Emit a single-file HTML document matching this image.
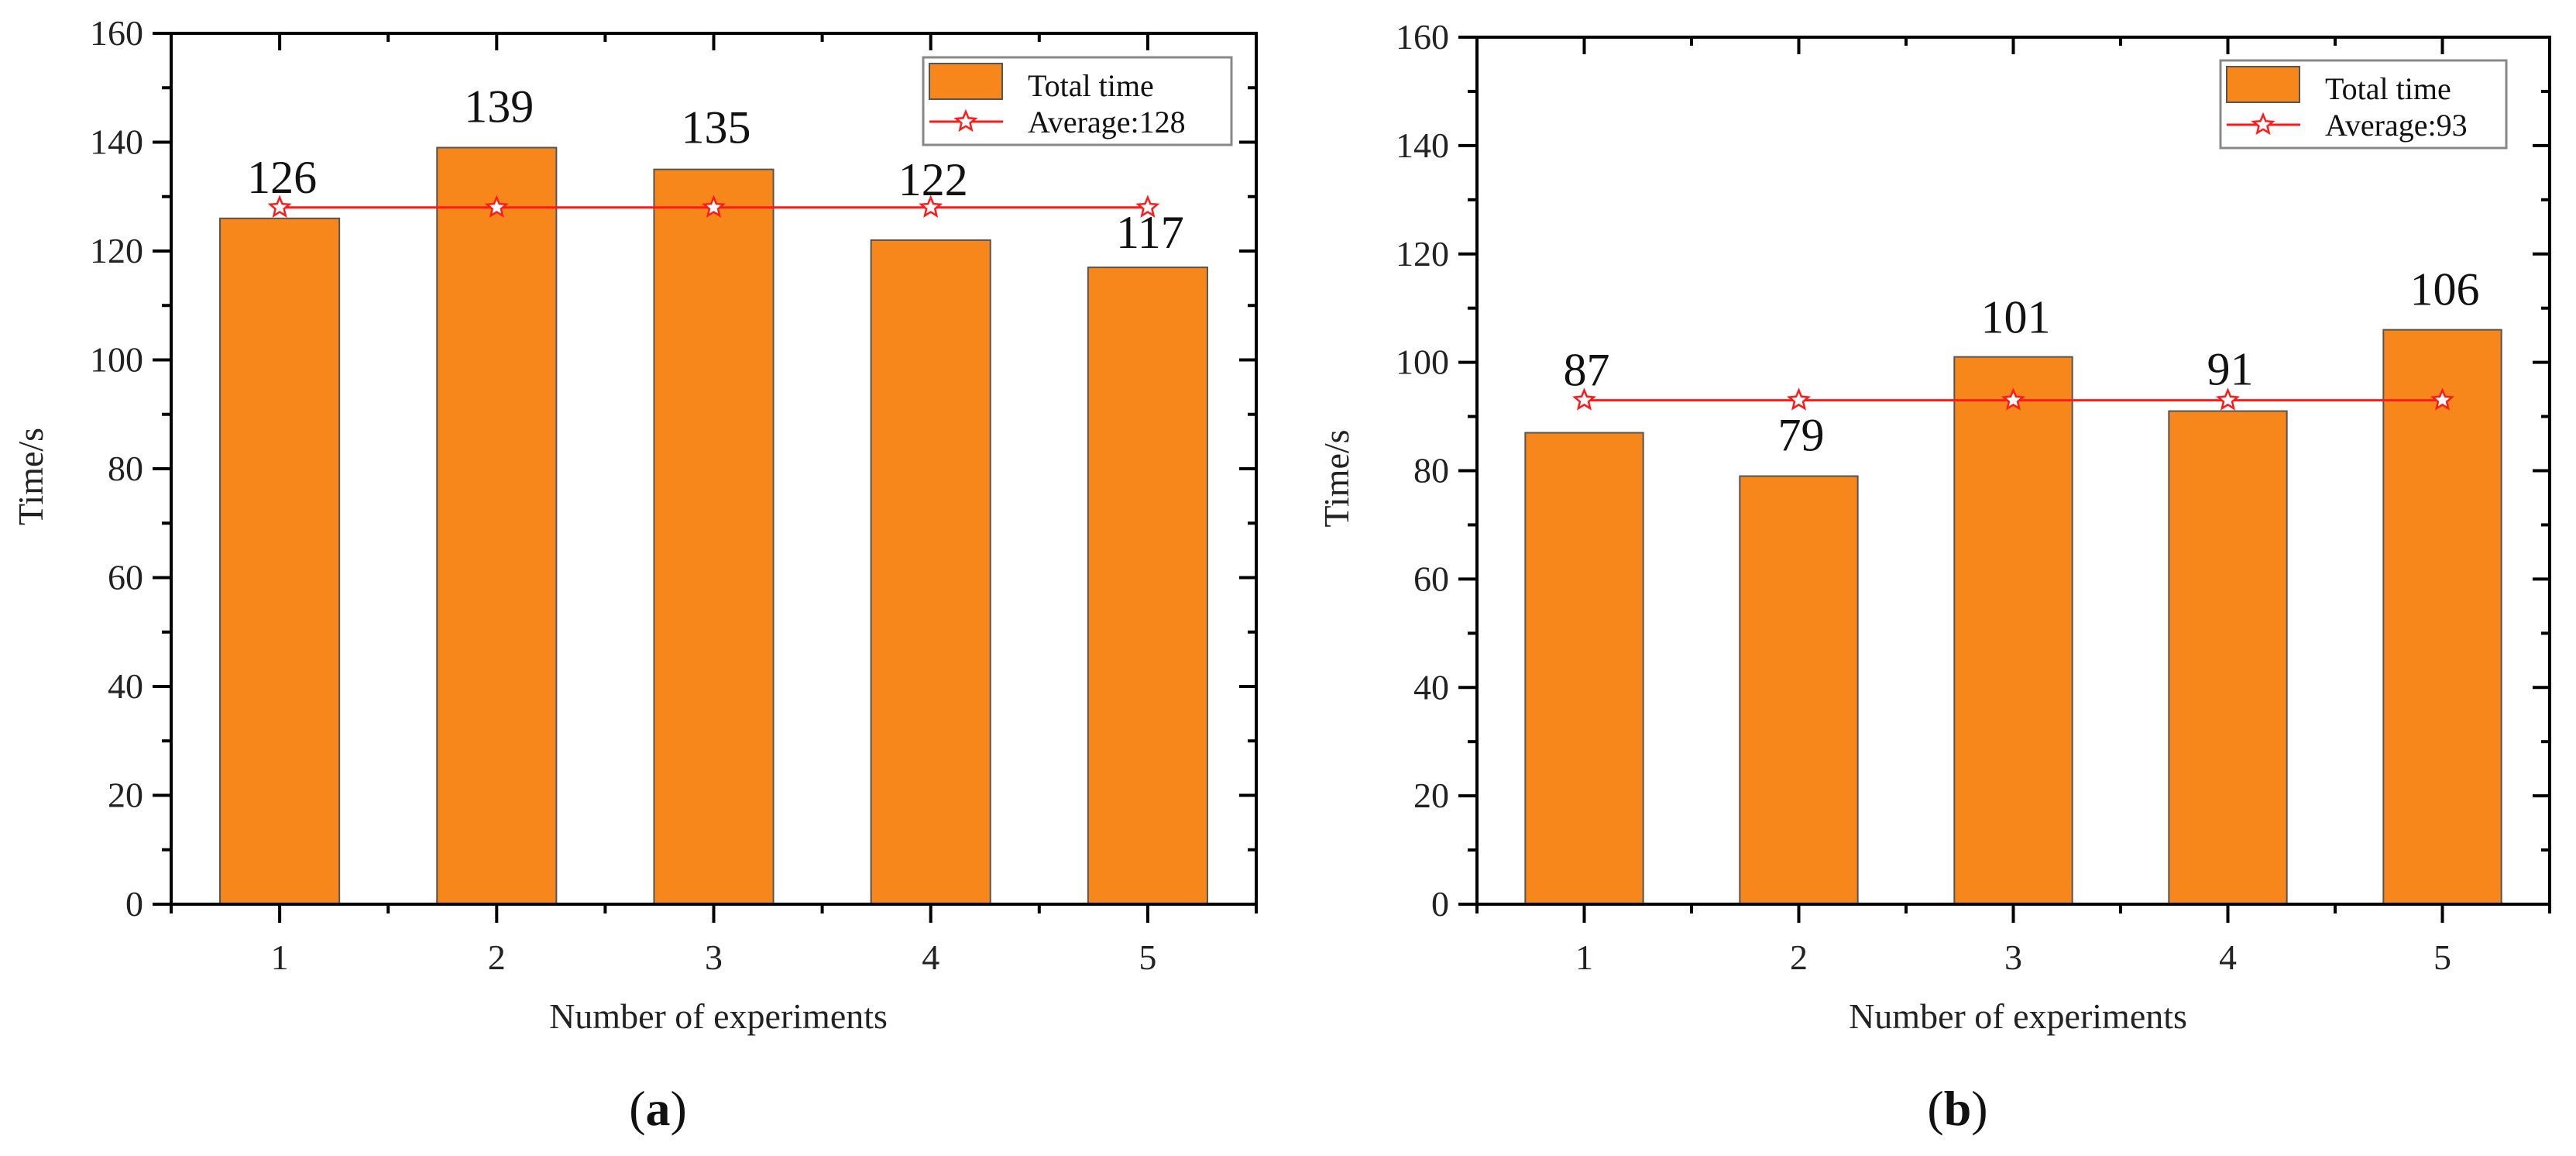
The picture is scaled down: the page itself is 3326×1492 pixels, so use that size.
<!DOCTYPE html>
<html><head><meta charset="utf-8"><style>
html,body{margin:0;padding:0;background:#fff;}
svg{display:block;font-family:"Liberation Serif",serif;}
</style></head><body>
<svg id="fig" width="3326" height="1492" viewBox="0 0 3326 1492"></svg>
<script>
const categories = [1, 2, 3, 4, 5];
const yTicks = [0, 20, 40, 60, 80, 100, 120, 140, 160];
const timesA = [126, 139, 135, 122, 117];
const averageA = 128;
const timesB = [87, 79, 101, 91, 106];
const averageB = 93;
// label gap above bar top (style only)
const labelGapA = [33, 33, 34, 58, 25];
const labelGapB = [61, 33, 31, 34, 32];

const NS = 'http://www.w3.org/2000/svg';
const svg = document.getElementById('fig');
function mk(tag, attrs, parent) {
  const e = document.createElementNS(NS, tag);
  for (const k in attrs) e.setAttribute(k, attrs[k]);
  (parent || svg).appendChild(e);
  return e;
}
function starPts(cx, cy, R) {
  const r = R * 0.45; let p = [];
  for (let i = 0; i < 10; i++) {
    const a = -Math.PI / 2 + i * Math.PI / 5; const rr = i % 2 ? r : R;
    p.push((cx + rr * Math.cos(a)).toFixed(1) + ',' + (cy + rr * Math.sin(a)).toFixed(1));
  }
  return p.join(' ');
}
function panel(cfg) {
  const g = mk('g', {});
  
  
  const {x0, x1, y0, y1} = cfg;
  const X = v => x0 + (v - 0.5) / 5 * (x1 - x0);
  const Y = v => y1 - v / 160 * (y1 - y0);
  const step = (x1 - x0) / 5, bw = step * 0.55;
  cfg.values.forEach((v, i) => {
    const r = mk('rect', {x: X(categories[i]) - bw / 2, y: Y(v), width: bw, height: Y(0) - Y(v), fill: '#F7871A', stroke: '#555', 'stroke-width': 2}, g);
    
    
  });
  const ay = Y(cfg.avg);
  const ln = mk('line', {x1: X(categories[0]), x2: X(categories[categories.length - 1]), y1: ay, y2: ay, stroke: '#ff1a1a', 'stroke-width': 3}, g);
  
  
  categories.forEach(c => {
    const s = mk('polygon', {points: starPts(X(c), ay, 13), fill: '#fff', stroke: '#ff1a1a', 'stroke-width': 2.5}, g);
    
    
  });
  cfg.values.forEach((v, i) => {
    const t = mk('text', {x: X(categories[i]) + 3, y: Y(v) - cfg.gaps[i], 'text-anchor': 'middle', 'font-size': 60, fill: '#111'}, g);
    t.textContent = v;
    
    
  });
  const fr = mk('rect', {x: x0, y: y0, width: x1 - x0, height: y1 - y0, fill: 'none', stroke: '#000', 'stroke-width': 4}, g);
  
  
  yTicks.forEach((v, i) => {
    const y = Y(v);
    mk('line', {x1: x0 - 24, x2: x0, y1: y, y2: y, stroke: '#000', 'stroke-width': 4}, g);
    mk('line', {x1: x1 - 22, x2: x1, y1: y, y2: y, stroke: '#000', 'stroke-width': 4}, g);
    if (i < yTicks.length - 1) {
      const ym = Y(v + 10);
      mk('line', {x1: x0 - 12, x2: x0, y1: ym, y2: ym, stroke: '#000', 'stroke-width': 4}, g);
      mk('line', {x1: x1 - 11, x2: x1, y1: ym, y2: ym, stroke: '#000', 'stroke-width': 4}, g);
    }
    const t = mk('text', {x: x0 - 36, y: y + 15, 'text-anchor': 'end', 'font-size': 46, fill: '#222'}, g);
    t.textContent = v;
    
    
  });
  categories.forEach(c => {
    const x = X(c);
    mk('line', {x1: x, x2: x, y1: y1, y2: y1 + 24, stroke: '#000', 'stroke-width': 4}, g);
    mk('line', {x1: x, x2: x, y1: y0, y2: y0 + 22, stroke: '#000', 'stroke-width': 4}, g);
    const t = mk('text', {x: x, y: y1 + 84, 'text-anchor': 'middle', 'font-size': 46, fill: '#222'}, g);
    t.textContent = c;
    
    
  });
  for (let k = 0; k <= 5; k++) {
    const x = X(0.5 + k);
    mk('line', {x1: x, x2: x, y1: y1, y2: y1 + 12, stroke: '#000', 'stroke-width': 4}, g);
    mk('line', {x1: x, x2: x, y1: y0, y2: y0 + 11, stroke: '#000', 'stroke-width': 4}, g);
  }
  const xt = mk('text', {x: (x0 + x1) / 2 + 6, y: y1 + 160, 'text-anchor': 'middle', 'font-size': 46, fill: '#222'}, g);
  xt.textContent = 'Number of experiments';
  
  
  const ty = (y0 + y1) / 2 + 10;
  const yt = mk('text', {x: x0 - 166, y: ty, 'text-anchor': 'middle', 'font-size': 46, fill: '#222', transform: `rotate(-90 ${x0 - 166} ${ty})`}, g);
  yt.textContent = 'Time/s';
  
  
  const L = cfg.legend;
  const lg = mk('g', {}, g);
  
  
  mk('rect', {x: L.x, y: L.y, width: L.w, height: 113, fill: '#fff', stroke: '#888', 'stroke-width': 3}, lg);
  mk('rect', {x: L.x + 8, y: L.y + 8, width: 94, height: 46, fill: '#F7871A', stroke: '#555', 'stroke-width': 2}, lg);
  mk('line', {x1: L.x + 8, x2: L.x + 103, y1: L.y + 83, y2: L.y + 83, stroke: '#ff1a1a', 'stroke-width': 3}, lg);
  mk('polygon', {points: starPts(L.x + 55, L.y + 83, 13), fill: '#fff', stroke: '#ff1a1a', 'stroke-width': 2.5}, lg);
  const t1 = mk('text', {x: L.x + 135, y: L.y + 50, 'font-size': 40, fill: '#111'}, lg);
  t1.textContent = 'Total time';
  
  
  const t2 = mk('text', {x: L.x + 135, y: L.y + 97, 'font-size': 40, fill: '#111'}, lg);
  t2.textContent = 'Average:' + cfg.avg;
  
  
  const cp = mk('text', {x: (x0 + x1) / 2 - 72, y: 1452, 'text-anchor': 'middle', 'font-size': 64, fill: '#111'}, g);
  cp.innerHTML = '(<tspan font-weight="bold">' + cfg.caption + '</tspan>)';
  
  
}
panel({name: 'chart-a', x0: 221, x1: 1622, y0: 43, y1: 1167, values: timesA, avg: averageA, gaps: labelGapA, caption: 'a', legend: {x: 1192, y: 74, w: 398}});
panel({name: 'chart-b', x0: 1907, x1: 3292, y0: 48, y1: 1167, values: timesB, avg: averageB, gaps: labelGapB, caption: 'b', legend: {x: 2867, y: 78, w: 369}});
</script>
</body></html>
